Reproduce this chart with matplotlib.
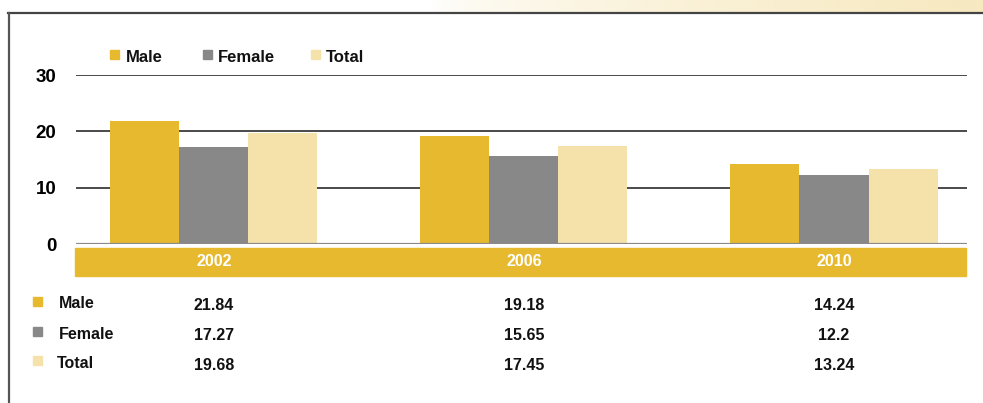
import numpy as np
import matplotlib
matplotlib.use("Agg")
import matplotlib.pyplot as plt
from matplotlib.patches import Rectangle
from matplotlib.lines import Line2D
import matplotlib.transforms as mtransforms

# === Data ===
years = ["2002", "2006", "2010"]
male = [21.84, 19.18, 14.24]
female = [17.27, 15.65, 12.2]
total = [19.68, 17.45, 13.24]
series_names = ["Male", "Female", "Total"]
yticks = [0, 10, 20, 30]

# === Style ===
COL_MALE = "#E6B92F"
COL_FEMALE = "#888888"
COL_TOTAL = "#F5E2AA"
colors = [COL_MALE, COL_FEMALE, COL_TOTAL]
W, H = 983, 403

plt.rcParams['font.family'] = ['Liberation Sans', 'DejaVu Sans']
plt.rcParams['font.weight'] = 'bold'

fig = plt.figure(figsize=(W / 100, H / 100), dpi=100)


def fx(px):
    return px / W


def fy(py):
    return 1 - py / H


# faint header band at top right
band_ax = fig.add_axes([fx(430), fy(12), fx(W - 430), 12 / H])
grad = np.linspace(0, 1, 200) ** 0.6
rgba = np.zeros((1, 200, 4))
rgba[..., 0] = 0xF7 / 255
rgba[..., 1] = 0xE9 / 255
rgba[..., 2] = 0xC0 / 255
rgba[..., 3] = grad
band_ax.imshow(rgba, aspect="auto", extent=[0, 1, 0, 1])
band_ax.axis("off")

# frame lines (top and left)
fig.add_artist(Line2D([fx(8), 1], [fy(13), fy(13)], color="#444444", lw=1.6))
fig.add_artist(Line2D([fx(9), fx(9)], [fy(13), 0], color="#555555", lw=1.6))

# === Main axes ===
ax = fig.add_axes([fx(76), fy(244), fx(967 - 76), (244 - 75) / H])
x = np.arange(len(years))
bw = 0.2226
for i, (vals, col) in enumerate(zip([male, female, total], colors)):
    ax.bar(x + (i - 1) * bw, vals, width=bw, color=col, zorder=3)

ax.set_xlim(-0.445, 2.429)
ax.set_ylim(0, 30)
for v in yticks[1:]:
    ax.axhline(v, color="#4a4a4a", lw=1.4, zorder=1)
ax.axhline(0, color="#8a8a8a", lw=1.6, zorder=4)
for s in ax.spines.values():
    s.set_visible(False)
ax.set_xticks([])
ax.set_yticks(yticks)
ax.set_yticklabels([str(v) for v in yticks], fontsize=13.5, fontweight="bold")
ax.tick_params(axis="y", length=0, pad=14)
ax.patch.set_visible(False)

# year band below the axis
band = Rectangle((fx(75), fy(276)), fx(966 - 75), (276 - 248) / H,
                 transform=fig.transFigure, color=COL_MALE, zorder=0)
fig.add_artist(band)
trans = mtransforms.blended_transform_factory(ax.transData, fig.transFigure)
for xi, yr in zip(x, years):
    fig.text(0, 0, "")
    ax.text(xi, fy(266.5), yr, transform=trans, ha="center", va="baseline",
            color="white", fontsize=11.5, fontweight="bold", clip_on=False)

# data table below
row_base = [310, 340.5, 370]
label_base = [308.5, 339, 368.5]
label_x = [58.5, 59, 56.5]
square_cy = [301, 331, 360.5]
for r, (name, vals, col) in enumerate(zip(series_names, [male, female, total], colors)):
    fig.add_artist(Rectangle((fx(33), fy(square_cy[r] + 4.5)), fx(9), 9 / H,
                             transform=fig.transFigure, color=col))
    fig.text(fx(label_x[r]), fy(label_base[r]), name, ha="left", va="baseline",
             fontsize=11.5, fontweight="bold", color="#111111")
    for xi, v in zip(x, vals):
        ax.text(xi, fy(row_base[r]), f"{v:g}", transform=trans, ha="center",
                va="baseline", fontsize=11.5, fontweight="bold", color="#111111",
                clip_on=False)

# top legend
leg_sq_x = [110, 203, 311]
leg_txt_x = [126, 218, 326]
for name, col, sx, tx in zip(series_names, colors, leg_sq_x, leg_txt_x):
    fig.add_artist(Rectangle((fx(sx), fy(59)), fx(9), 9 / H,
                             transform=fig.transFigure, color=col))
    fig.text(fx(tx), fy(62), name, ha="left", va="baseline",
             fontsize=12, fontweight="bold", color="#111111")

fig.savefig("out.png", dpi=100)
